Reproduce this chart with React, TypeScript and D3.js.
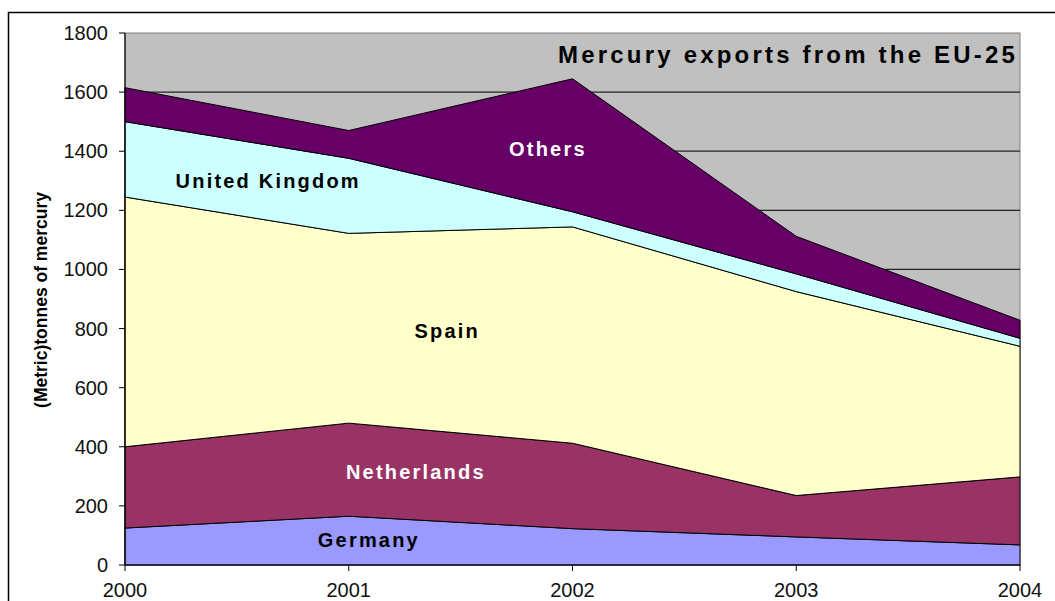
import React from "react";
import * as d3 from "d3";

const years = [2000, 2001, 2002, 2003, 2004];
const germany = [125, 165, 123, 95, 68];
const netherlands = [275, 315, 289, 140, 230];
const spain = [845, 642, 732, 690, 442];
const unitedKingdom = [255, 254, 51, 60, 27];
const others = [115, 94, 450, 127, 61];
const yTicks = [0, 200, 400, 600, 800, 1000, 1200, 1400, 1600, 1800];

const seriesNames = ["Germany", "Netherlands", "Spain", "United Kingdom", "Others"];
const seriesValues = [germany, netherlands, spain, unitedKingdom, others];
const colors = ["#9999FF", "#993366", "#FFFFCC", "#CCFFFF", "#660066"];

// label position: [year, value, text colour]
const labels: [string, number, number, string][] = [
  ["Germany", 2001.09, 61, "#000"],
  ["Netherlands", 2001.3, 291, "#fff"],
  ["Spain", 2001.44, 768, "#000"],
  ["United Kingdom", 2000.64, 1275, "#000"],
  ["Others", 2001.89, 1384, "#fff"],
];

const rows = years.map((year, i) => {
  const row: any = { year };
  seriesNames.forEach((name, j) => (row[name] = seriesValues[j][i]));
  return row;
});

const x = d3.scaleLinear().domain([2000, 2004]).range([125, 1020]);
const y = d3.scaleLinear().domain([0, 1800]).range([565, 33]);

const stacked = d3.stack().keys(seriesNames)(rows);
const area = d3
  .area<any>()
  .x((d) => x(d.data.year))
  .y0((d) => y(d[0]))
  .y1((d) => y(d[1]));

const font = "'Liberation Sans', Arial, sans-serif";

const App = () => {
  return (
    <svg
      width={1055}
      height={601}
      style={{ position: "absolute", left: 0, top: 0, background: "#fff" }}
      fontFamily={font}
    >
      <rect x={8.5} y={12.5} width={1200} height={700} fill="#fff" stroke="#000" strokeWidth={1.5} />
      <rect x={125} y={y(1800)} width={x(2004) - x(2000)} height={y(0) - y(1800)} fill="#C0C0C0" stroke="#808080" />
      {yTicks.slice(1, -1).map((t) => (
        <line key={t} x1={125} x2={1020} y1={y(t)} y2={y(t)} stroke="#222" strokeWidth={1.2} />
      ))}
      {stacked.map((s, i) => (
        <path key={s.key} d={area(s as any) || ""} fill={colors[i]} stroke="#000" strokeWidth={1} />
      ))}
      {labels.map(([t, lx, ly, c]) => (
        <text
          key={t}
          x={x(lx)}
          y={y(ly)}
          textAnchor="middle"
          fontSize={20}
          fontWeight="bold"
          letterSpacing={2.2}
          fill={c}
        >
          {t}
        </text>
      ))}
      <text x={558} y={63} fontSize={24} fontWeight="bold" letterSpacing={3.2} fill="#000">
        Mercury exports from the EU-25
      </text>
      <line x1={125} x2={125} y1={y(1800)} y2={y(0)} stroke="#000" strokeWidth={1.2} />
      <line x1={125} x2={1020} y1={y(0)} y2={y(0)} stroke="#000" strokeWidth={1.2} />
      {yTicks.map((t) => (
        <g key={t}>
          <line x1={119} x2={125} y1={y(t)} y2={y(t)} stroke="#000" />
          <text x={108} y={y(t) + 7} textAnchor="end" fontSize={20} fill="#111">
            {t}
          </text>
        </g>
      ))}
      {years.map((yr) => (
        <g key={yr}>
          <line x1={x(yr)} x2={x(yr)} y1={y(0)} y2={y(0) + 6} stroke="#000" />
          <text x={x(yr)} y={597} textAnchor="middle" fontSize={20} fill="#111">
            {yr}
          </text>
        </g>
      ))}
      <text
        transform={`translate(47,300) rotate(-90)`}
        textAnchor="middle"
        fontSize={17.5}
        fontWeight="bold"
        fill="#000"
      >
        (Metric)tonnes of mercury
      </text>
    </svg>
  );
};

export default App;
